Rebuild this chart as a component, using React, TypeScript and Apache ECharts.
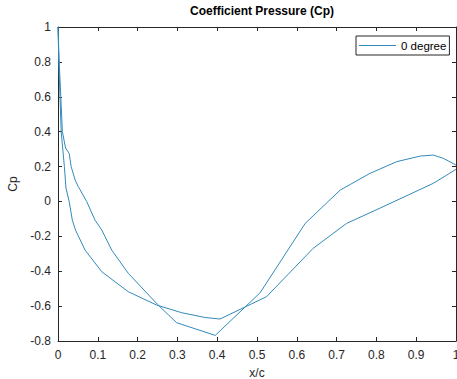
import React, { useEffect, useRef } from "react";
import * as echarts from "echarts";

// x/c positions and pressure coefficients, traced from trailing edge (upper curve) to leading edge and back
const xOverC: number[] = [
  1.0, 0.968, 0.943, 0.91, 0.851, 0.784, 0.709, 0.621, 0.508, 0.395, 0.298, 0.25, 0.177, 0.135,
  0.11, 0.093, 0.072, 0.051, 0.043, 0.033, 0.028, 0.019, 0.011, 0.007, 0.003, 0.0,
  0.002, 0.005, 0.008, 0.016, 0.02, 0.028, 0.036, 0.044, 0.068, 0.11, 0.143, 0.177, 0.248,
  0.311, 0.369, 0.407, 0.524, 0.641, 0.725, 0.817, 0.943, 1.0,
];
const cpValues: number[] = [
  0.209, 0.247, 0.266, 0.26, 0.228, 0.161, 0.065, -0.126, -0.523, -0.768, -0.695, -0.59, -0.413, -0.279,
  -0.164, -0.107, 0.0, 0.085, 0.123, 0.2, 0.276, 0.306, 0.4, 0.6, 0.8, 1.0,
  0.8, 0.6, 0.4, 0.2, 0.077, 0.0, -0.107, -0.164, -0.279, -0.403, -0.46, -0.518, -0.594,
  -0.638, -0.665, -0.674, -0.546, -0.269, -0.126, -0.03, 0.104, 0.184,
];
const seriesName = "0 degree";
const titleText = "Coefficient Pressure (Cp)";
const xLabel = "x/c";
const yLabel = "Cp";

export default function App() {
  const ref = useRef<HTMLDivElement>(null);
  useEffect(() => {
    if (!ref.current) return;
    const chart = echarts.init(ref.current, null, { renderer: "svg" });
    const font = "Arial, 'Liberation Sans', Helvetica, sans-serif";
    const axisColor = "#262626";
    const lineColor = "#338abb";
    const data = xOverC.map((x, i) => [x, cpValues[i]]);
    const common = {
      type: "value" as const,
      axisLine: { show: true, onZero: false, lineStyle: { color: axisColor, width: 1 } },
      axisTick: { show: true, inside: true, length: 4, lineStyle: { color: axisColor } },
      splitLine: { show: false },
    };
    const fmt = (v: number) => String(Math.round(v * 10) / 10);
    chart.setOption({
      animation: false,
      backgroundColor: "#ffffff",
      title: {
        text: titleText,
        left: 257,
        textAlign: "center",
        top: 0,
        textStyle: { fontFamily: font, fontSize: 12, fontWeight: "bold", color: "#000" },
      },
      legend: {
        left: 356,
        top: 36,
        padding: [3, 3],
        itemWidth: 37,
        itemHeight: 1,
        itemGap: 5,
        icon: "rect",
        borderColor: "#262626",
        borderWidth: 1,
        backgroundColor: "#fff",
        textStyle: { fontFamily: font, fontSize: 11.5, color: "#000", lineHeight: 13 },
        data: [{ name: seriesName, icon: "rect", itemStyle: { color: lineColor } }],
      },
      grid: {
        left: 58,
        right: 1,
        top: 27,
        bottom: 38,
        containLabel: false,
        outerBoundsMode: "none",
      },
      xAxis: [
        {
          ...common,
          min: 0,
          max: 1,
          interval: 0.1,
          position: "bottom",
          name: xLabel,
          nameLocation: "middle",
          nameGap: 26,
          nameTextStyle: { fontFamily: font, fontSize: 12, color: axisColor },
          axisLabel: { fontFamily: font, fontSize: 12, color: axisColor, margin: 8, formatter: fmt },
        },
        {
          ...common,
          min: 0,
          max: 1,
          interval: 0.1,
          position: "top",
          axisLabel: { show: false },
        },
      ],
      yAxis: [
        {
          ...common,
          min: -0.8,
          max: 1,
          interval: 0.2,
          position: "left",
          name: yLabel,
          nameLocation: "middle",
          nameGap: 30,
          nameTextStyle: { fontFamily: font, fontSize: 12, color: axisColor },
          axisLabel: { fontFamily: font, fontSize: 12, color: axisColor, margin: 7, formatter: fmt },
        },
        {
          ...common,
          min: -0.8,
          max: 1,
          interval: 0.2,
          position: "right",
          axisLabel: { show: false },
        },
      ],
      series: [
        {
          name: seriesName,
          type: "line",
          xAxisIndex: 0,
          yAxisIndex: 0,
          data,
          symbol: "none",
          showSymbol: false,
          lineStyle: { color: lineColor, width: 1 },
          itemStyle: { color: lineColor },
        },
      ],
    });
    return () => chart.dispose();
  }, []);
  return (
    <div
      ref={ref}
      style={{ position: "fixed", left: 0, top: 0, width: 457, height: 379, background: "#fff" }}
    />
  );
}
